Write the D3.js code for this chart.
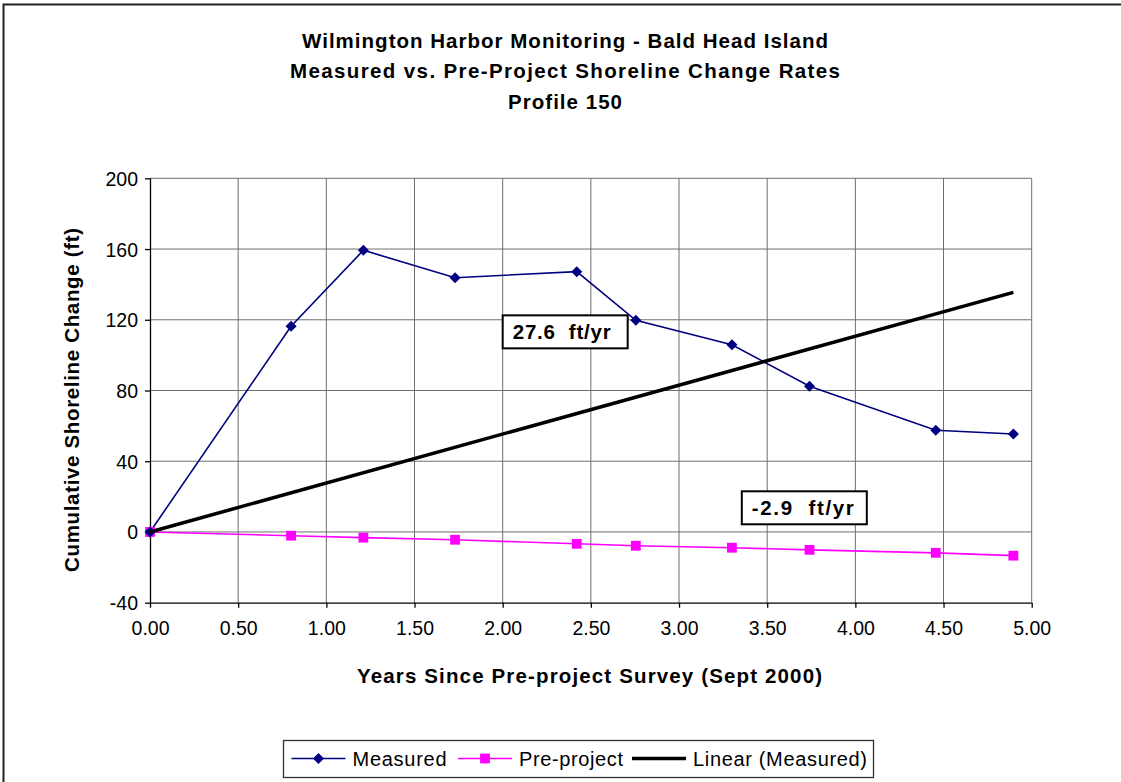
<!DOCTYPE html>
<html><head><meta charset="utf-8">
<script src="https://cdn.jsdelivr.net/npm/d3@7"></script>
<style>
html,body{margin:0;padding:0;background:#fff;}
svg{display:block;font-family:"Liberation Sans",Arial,sans-serif;}
</style></head>
<body><svg id="c" width="1121" height="782"></svg>
<script>
const titleLines = ["Wilmington Harbor Monitoring - Bald Head Island","Measured vs. Pre-Project Shoreline Change Rates","Profile 150"];
const years = [0, 0.80, 1.21, 1.73, 2.42, 2.755, 3.30, 3.74, 4.456, 4.896];
const measured = [0, 116.3, 159.3, 143.8, 147.2, 119.7, 105.9, 82.4, 57.5, 55.4];
const preProject = [0, -2.1, -3.2, -4.4, -6.7, -7.8, -8.9, -10.1, -11.8, -13.4];
const trendYears = [0, 4.896];
const trendValues = [0, 135.5];
const xTicks = [0, 0.5, 1, 1.5, 2, 2.5, 3, 3.5, 4, 4.5, 5];
const yTicks = [-40, 0, 40, 80, 120, 160, 200];
const rateLabels = ["27.6  ft/yr", "-2.9  ft/yr"];
const rateLabelAnchors = [[2.0, 122.5], [3.356, 23.0]];
const legendNames = ["Measured", "Pre-project", "Linear (Measured)"];

const svg = d3.select("#c");
const W = 1121, H = 782;
const L = 150, R = 1031.7, T = 178.3, B = 602.7;
const x = d3.scaleLinear().domain([0, 5]).range([L, R]);
const y = d3.scaleLinear().domain([-40, 200]).range([B, T]);
const BOLD = 20.5, TICK = 19.5, LEG = 20;

// outer chart border
svg.append("rect").attr("x", 3.5).attr("y", 4.5).attr("width", W + 10).attr("height", H + 10)
  .attr("fill", "#fff").attr("stroke", "#222").attr("stroke-width", 2);

// title
const titleLen = [526, 550, 114];
const tt = svg.append("text").attr("text-anchor", "middle").attr("font-weight", "bold")
  .attr("font-size", BOLD).attr("fill", "#000");
titleLines.forEach((t, i) => tt.append("tspan").attr("x", 565).attr("y", 47.5 + i * 30.5)
  .attr("textLength", titleLen[i]).attr("lengthAdjust", "spacing").text(t));

// gridlines
const g = svg.append("g");
g.selectAll("line.v").data(xTicks.slice(1)).join("line")
  .attr("x1", d => x(d)).attr("x2", d => x(d)).attr("y1", T).attr("y2", B)
  .attr("stroke", "#6e6e6e").attr("stroke-width", 1);
g.selectAll("line.h").data(yTicks.slice(1)).join("line")
  .attr("x1", L).attr("x2", R).attr("y1", d => y(d)).attr("y2", d => y(d))
  .attr("stroke", "#6e6e6e").attr("stroke-width", 1);

// axes
const xAxis = d3.axisBottom(x).tickValues(xTicks).tickFormat(d3.format(".2f")).tickSize(5).tickPadding(13);
const yAxis = d3.axisLeft(y).tickValues(yTicks).tickFormat(d => d < 0 ? "-" + Math.abs(d) : d).tickSize(5).tickPadding(7);
const gx = svg.append("g").attr("transform", `translate(0,${B})`).call(xAxis);
const gy = svg.append("g").attr("transform", `translate(${L},0)`).call(yAxis);
[gx, gy].forEach(a => {
  a.select(".domain").attr("stroke", "#000").attr("stroke-width", 1.3);
  a.selectAll(".tick line").attr("stroke", "#000").attr("stroke-width", 1.3);
  a.selectAll(".tick text").attr("font-size", TICK).attr("fill", "#000")
    .attr("font-family", "'Liberation Sans',Arial,sans-serif");
});
gx.select(".domain").attr("d", `M${L},0.5H${R}`);
gy.select(".domain").attr("d", `M0.5,${T}V${B}`);
gy.selectAll(".tick text").attr("dy", "0.36em");

// axis titles
svg.append("text").attr("x", 589.5).attr("y", 683).attr("text-anchor", "middle")
  .attr("font-weight", "bold").attr("font-size", BOLD).attr("textLength", 465).attr("lengthAdjust", "spacing")
  .text("Years Since Pre-project Survey (Sept 2000)");
svg.append("text").attr("transform", "translate(79,400) rotate(-90)").attr("text-anchor", "middle")
  .attr("font-weight", "bold").attr("font-size", BOLD).attr("textLength", 344).attr("lengthAdjust", "spacing")
  .text("Cumulative Shoreline Change (ft)");

// lines
const line = d3.line().x(d => x(d[0])).y(d => y(d[1]));
const measPts = years.map((v, i) => [v, measured[i]]);
const prePts = years.map((v, i) => [v, preProject[i]]);
const trendPts = trendYears.map((v, i) => [v, trendValues[i]]);

svg.append("path").datum(prePts).attr("d", line).attr("fill", "none")
  .attr("stroke", "#ff00ff").attr("stroke-width", 1.6);
svg.append("path").datum(measPts).attr("d", line).attr("fill", "none")
  .attr("stroke", "#000080").attr("stroke-width", 1.6);

const diamond = d3.symbol().type(d3.symbolDiamond2).size(78);
const square = d3.symbol().type(d3.symbolSquare).size(96);
svg.selectAll("path.pp").data(prePts).join("path").attr("class", "pp")
  .attr("transform", d => `translate(${x(d[0])},${y(d[1])})`).attr("d", square).attr("fill", "#ff00ff");
svg.selectAll("path.mm").data(measPts).join("path").attr("class", "mm")
  .attr("transform", d => `translate(${x(d[0])},${y(d[1])})`).attr("d", diamond).attr("fill", "#000080");

svg.append("path").datum(trendPts).attr("d", line).attr("fill", "none")
  .attr("stroke", "#000").attr("stroke-width", 3.5);

// rate labels
const rateLen = [98, 102];
rateLabels.forEach((t, i) => {
  const [ax, ay] = rateLabelAnchors[i];
  const bx = x(ax), by = y(ay);
  svg.append("rect").attr("x", bx).attr("y", by).attr("width", 125).attr("height", 33)
    .attr("fill", "#fff").attr("stroke", "#000").attr("stroke-width", 2);
  svg.append("text").attr("x", bx + 10).attr("y", by + 24).attr("font-weight", "bold")
    .attr("font-size", BOLD).attr("textLength", rateLen[i]).attr("lengthAdjust", "spacing")
    .attr("xml:space", "preserve").style("white-space", "pre").text(t);
});

// legend
const lg = svg.append("g");
lg.append("rect").attr("x", 283.5).attr("y", 740.5).attr("width", 590).attr("height", 37)
  .attr("fill", "#fff").attr("stroke", "#333").attr("stroke-width", 1.3);
const lx = [291.5, 458, 632];
const ly = 758.5;
const legLen = [94, 104, 174];
lg.append("line").attr("x1", lx[0]).attr("x2", lx[0] + 54).attr("y1", ly).attr("y2", ly).attr("stroke", "#000080").attr("stroke-width", 1.6);
lg.append("path").attr("transform", `translate(${lx[0] + 27},${ly})`).attr("d", diamond).attr("fill", "#000080");
lg.append("line").attr("x1", lx[1]).attr("x2", lx[1] + 54).attr("y1", ly).attr("y2", ly).attr("stroke", "#ff00ff").attr("stroke-width", 1.6);
lg.append("path").attr("transform", `translate(${lx[1] + 27},${ly})`).attr("d", square).attr("fill", "#ff00ff");
lg.append("line").attr("x1", lx[2]).attr("x2", lx[2] + 54).attr("y1", ly).attr("y2", ly).attr("stroke", "#000").attr("stroke-width", 3.5);
legendNames.forEach((n, i) => {
  lg.append("text").attr("x", lx[i] + 61).attr("y", ly + 7).attr("font-size", LEG).attr("fill", "#000")
    .attr("textLength", legLen[i]).attr("lengthAdjust", "spacing").text(n);
});
</script></body></html>
